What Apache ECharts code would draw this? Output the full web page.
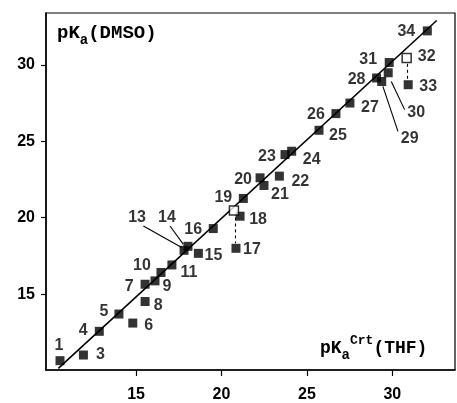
<!DOCTYPE html>
<html>
<head>
    <meta charset="utf-8">
    <title>pKa DMSO vs THF</title>
    <script src="https://cdn.jsdelivr.net/npm/echarts@6/dist/echarts.min.js"></script>
    <style>
        html, body { margin: 0; padding: 0; background: #fff; }
    </style>
</head>
<body>
    <div id="main" style="width: 457px;height:403px;"></div>
    <script type="text/javascript">
        var myChart = echarts.init(document.getElementById('main'));

        // compound numbers and their pKa values (filled squares)
        var labels = ['1', '3', '4', '5', '6', '7', '8', '9', '10', '11', '13', '14', '15', '16', '17',
            '18', '19', '20', '21', '22', '23', '24', '25', '26', '27', '28', '29', '30', '31', '33', '34'];
        var pkaTHF = [10.55, 11.92, 12.85, 14.0, 14.81, 15.53, 15.53, 16.11, 16.46, 17.1, 17.81, 18.04, 18.65, 19.52, 20.85,
            21.09, 21.28, 22.26, 22.49, 23.39, 23.72, 24.11, 25.71, 26.7, 27.52, 29.08, 29.38, 29.76, 29.82, 30.93, 32.05];
        var pkaDMSO = [10.65, 11.02, 12.57, 13.7, 13.11, 15.65, 14.52, 15.87, 16.42, 16.91, 17.87, 18.13, 17.67, 19.29, 18.0,
            20.1, 21.26, 22.61, 22.11, 22.72, 24.13, 24.35, 25.72, 26.81, 27.5, 29.14, 28.91, 29.48, 30.15, 28.7, 32.22];

        // open squares
        var openLabels = ['', '32'];
        var openTHF = [20.73, 30.84];
        var openDMSO = [20.48, 30.44];

        // correlation line
        var fitTHF = [10.45, 32.6];
        var fitDMSO = [10.15, 32.9];

        var xTicks = [15, 20, 25, 30];
        var yTicks = [15, 20, 25, 30];

        // leader lines (label -> point) and dashed shifts
        var leaderFrom = [[15.43, 19.46], [16.99, 19.46], [29.45, 28.59], [29.94, 28.91]];
        var leaderTo = [[17.67, 18.05], [17.77, 18.26], [30.33, 25.65], [30.72, 27.07]];
        var dashFrom = [[20.79, 20.02], [30.86, 30.07]];
        var dashTo = [[20.79, 18.33], [30.86, 29.02]];

        // label placement in px relative to marker centre
        var labelShift = {
            '1': [-1, -15], '3': [17, 0], '4': [-16, -1], '5': [-15, -2], '6': [16, 3],
            '7': [-16, 2], '8': [13, 4], '9': [12, 6], '10': [-19, -7], '11': [17, 8],
            '13': [-47, -33], '14': [-21, -29], '15': [15, 2], '16': [-20, 1], '17': [16, 1],
            '18': [18, 3], '19': [-20, -1], '20': [-17, 2], '21': [16, 9], '22': [21, 5],
            '23': [-18, 2], '24': [20, 8], '25': [19, 5], '26': [-20, 1], '27': [20, 5],
            '28': [-20, 2], '29': [28, 57], '30': [28, 40], '31': [-21, -3], '32': [20, -2],
            '33': [20, 2], '34': [-21, 1]
        };

        var labelFont = {
            show: true,
            position: 'inside',
            color: '#000',
            fontFamily: 'Liberation Sans',
            fontWeight: 'bold',
            fontSize: 16
        };

        function pointData(names, xs, ys) {
            return names.map(function (n, i) {
                var item = { name: n, value: [xs[i], ys[i]] };
                if (n) {
                    item.label = Object.assign({}, labelFont, { formatter: n, offset: labelShift[n] });
                } else {
                    item.label = { show: false };
                }
                return item;
            });
        }

        function segs(from, to) {
            return from.map(function (p, i) {
                return { coords: [p, to[i]] };
            });
        }

        function monoRich(size) {
            return {
                m: { fontFamily: 'Liberation Mono', fontWeight: 'bold', fontSize: size, lineHeight: 28, verticalAlign: 'middle' },
                sub: { fontFamily: 'Liberation Mono', fontWeight: 'bold', fontSize: 14, lineHeight: 14, verticalAlign: 'bottom' },
                sup: { fontFamily: 'Liberation Mono', fontWeight: 'bold', fontSize: 13, lineHeight: 14, verticalAlign: 'top' }
            };
        }

        option = {
            backgroundColor: '#fff',
            animation: false,
            grid: {
                left: 46,
                right: 2,
                top: 13,
                bottom: 32,
                show: true,
                borderColor: '#000',
                borderWidth: 1.2
            },
            graphic: [{
                type: 'text',
                left: 57,
                top: 24,
                style: {
                    text: '{m|pK}{sub|a}{m|(DMSO)}',
                    rich: monoRich(19),
                    fill: '#000'
                }
            }, {
                type: 'text',
                left: 320,
                top: 334,
                style: {
                    text: '{m|pK}{sub|a}{sup|Crt}{m|(THF)}',
                    rich: monoRich(18),
                    fill: '#000'
                }
            }],
            xAxis: {
                type: 'value',
                min: 9.73,
                max: 33.67,
                splitLine: { show: false },
                axisLine: { onZero: false, lineStyle: { color: '#000', width: 1.5 } },
                axisTick: { show: true, length: 6, customValues: xTicks, lineStyle: { color: '#000', width: 1.2 } },
                axisLabel: {
                    customValues: xTicks,
                    color: '#000',
                    fontFamily: 'Liberation Sans',
                    fontWeight: 'bold',
                    fontSize: 16,
                    margin: 17
                }
            },
            yAxis: {
                type: 'value',
                min: 10.04,
                max: 33.39,
                splitLine: { show: false },
                axisLine: { onZero: false, lineStyle: { color: '#000', width: 1.5 } },
                axisTick: { show: true, length: 5, customValues: yTicks, lineStyle: { color: '#000', width: 1.2 } },
                axisLabel: {
                    customValues: yTicks,
                    color: '#000',
                    fontFamily: 'Liberation Sans',
                    fontWeight: 'bold',
                    fontSize: 16,
                    margin: 11
                }
            },
            series: [{
                type: 'line',
                z: 1,
                symbol: 'none',
                silent: true,
                lineStyle: { color: '#000', width: 1.6 },
                data: fitTHF.map(function (x, i) { return [x, fitDMSO[i]]; })
            }, {
                type: 'lines',
                coordinateSystem: 'cartesian2d',
                z: 1,
                silent: true,
                lineStyle: { color: '#000', width: 1.1, opacity: 1 },
                data: segs(leaderFrom, leaderTo)
            }, {
                type: 'lines',
                coordinateSystem: 'cartesian2d',
                z: 1,
                silent: true,
                lineStyle: { color: '#000', width: 1.1, type: [3, 3], opacity: 1 },
                data: segs(dashFrom, dashTo)
            }, {
                type: 'scatter',
                z: 3,
                symbol: 'rect',
                symbolSize: 9,
                itemStyle: { color: '#000' },
                data: pointData(labels, pkaTHF, pkaDMSO)
            }, {
                type: 'scatter',
                z: 4,
                symbol: 'rect',
                symbolSize: 9,
                itemStyle: { color: '#fff', borderColor: '#000', borderWidth: 1.5 },
                data: pointData(openLabels, openTHF, openDMSO)
            }]
        };

        myChart.setOption(option);
    </script>
</body>
</html>
